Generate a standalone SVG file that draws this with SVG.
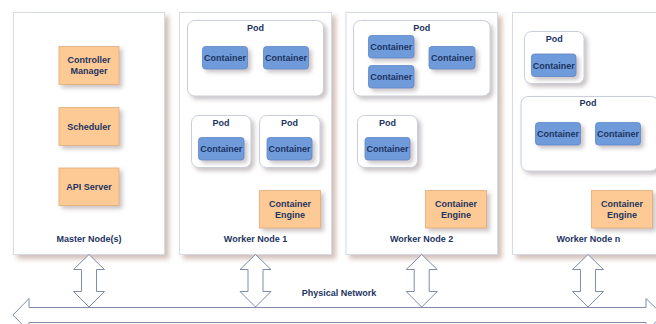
<svg xmlns="http://www.w3.org/2000/svg" width="656" height="324" viewBox="0 0 656 324">
  <defs>
    <filter id="nodeShadow" x="-10%" y="-10%" width="130%" height="130%">
      <feDropShadow dx="4" dy="4" stdDeviation="2.5" flood-color="#9c7460" flood-opacity="0.45"/>
    </filter>
    <filter id="smallShadow" x="-20%" y="-20%" width="150%" height="160%">
      <feDropShadow dx="3" dy="3" stdDeviation="2" flood-color="#8a7a80" flood-opacity="0.45"/>
    </filter>
    <style>
      .node { fill: #ffffff; stroke: #d5dae4; stroke-width: 1; filter: url(#nodeShadow); }
      .pod { fill: #ffffff; stroke: #c9ced8; stroke-width: 1; filter: url(#smallShadow); }
      .comp { fill: #fdc994; stroke: #e3ad78; stroke-width: 0.8; filter: url(#smallShadow); }
      .ctr { fill: #6f9bdb; stroke: #5d86c6; stroke-width: 0.8; filter: url(#smallShadow); }
      .arrow { fill: #ffffff; stroke: #7f8cab; stroke-width: 1; }
      text { font-family: "Liberation Sans", Arial, sans-serif; font-size: 9px; font-weight: bold; fill: #1d3461; text-anchor: middle; }
    </style>
  </defs>

  <!-- Master node -->
  <g id="master-node">
    <rect class="node" x="13.5" y="12.5" width="151" height="242"/>
    <rect class="comp" x="59" y="46.5" width="60" height="38"/>
    <text x="89" y="63">Controller</text>
    <text x="89" y="74">Manager</text>
    <rect class="comp" x="59" y="107.5" width="60" height="38"/>
    <text x="89" y="129.5">Scheduler</text>
    <rect class="comp" x="59" y="168" width="60" height="37.5"/>
    <text x="89" y="190">API Server</text>
    <text x="89" y="242">Master Node(s)</text>
  </g>

  <!-- Worker node 1 -->
  <g id="worker-node-1">
    <rect class="node" x="179.5" y="12.5" width="152" height="242"/>
    <rect class="pod" x="187.5" y="20.5" width="136" height="75.5" rx="7"/>
    <text x="255.5" y="30.5">Pod</text>
    <rect class="ctr" x="202.5" y="46.5" width="45" height="22.5" rx="3"/>
    <text x="225" y="61">Container</text>
    <rect class="ctr" x="263.5" y="46.5" width="45" height="22.5" rx="3"/>
    <text x="286" y="61">Container</text>
    <rect class="pod" x="191.5" y="115.5" width="59.5" height="52" rx="7"/>
    <text x="221" y="125.5">Pod</text>
    <rect class="ctr" x="198.5" y="137.5" width="45.5" height="22.5" rx="3"/>
    <text x="221.2" y="152">Container</text>
    <rect class="pod" x="259.5" y="115.5" width="60.5" height="52" rx="7"/>
    <text x="289.5" y="125.5">Pod</text>
    <rect class="ctr" x="267" y="137.5" width="45" height="22.5" rx="3"/>
    <text x="289.5" y="152">Container</text>
    <rect class="comp" x="259.5" y="190.5" width="61" height="37.5"/>
    <text x="290" y="206.5">Container</text>
    <text x="290" y="217.5">Engine</text>
    <text x="255.5" y="242">Worker Node 1</text>
  </g>

  <!-- Worker node 2 -->
  <g id="worker-node-2">
    <rect class="node" x="346" y="12.5" width="151.5" height="242"/>
    <rect class="pod" x="353.5" y="20.5" width="136.5" height="75.5" rx="7"/>
    <text x="421.7" y="30.5">Pod</text>
    <rect class="ctr" x="368.5" y="35.5" width="45.5" height="22.5" rx="3"/>
    <text x="391.2" y="49.5">Container</text>
    <rect class="ctr" x="368.5" y="65.5" width="45.5" height="22.5" rx="3"/>
    <text x="391.2" y="79.5">Container</text>
    <rect class="ctr" x="429" y="46.5" width="46" height="22.5" rx="3"/>
    <text x="452" y="61">Container</text>
    <rect class="pod" x="357.5" y="115.5" width="60" height="52" rx="7"/>
    <text x="387.5" y="125.5">Pod</text>
    <rect class="ctr" x="365" y="137.5" width="45" height="22.5" rx="3"/>
    <text x="387.5" y="152">Container</text>
    <rect class="comp" x="425.5" y="190.5" width="61" height="37.5"/>
    <text x="456" y="206.5">Container</text>
    <text x="456" y="217.5">Engine</text>
    <text x="421.7" y="242">Worker Node 2</text>
  </g>

  <!-- Worker node n -->
  <g id="worker-node-n">
    <rect class="node" x="512.5" y="12.5" width="160" height="242"/>
    <rect class="pod" x="524.5" y="31.5" width="59.5" height="52" rx="7"/>
    <text x="554.3" y="41.5">Pod</text>
    <rect class="ctr" x="531.5" y="54" width="44.5" height="22.5" rx="3"/>
    <text x="553.8" y="68.5">Container</text>
    <rect class="pod" x="521" y="96.5" width="137" height="74.5" rx="7"/>
    <text x="588" y="106">Pod</text>
    <rect class="ctr" x="535.5" y="122.5" width="45" height="22.5" rx="3"/>
    <text x="558" y="137">Container</text>
    <rect class="ctr" x="595.5" y="122.5" width="45" height="22.5" rx="3"/>
    <text x="618" y="137">Container</text>
    <rect class="comp" x="591.5" y="190.5" width="61" height="37.5"/>
    <text x="622" y="206.5">Container</text>
    <text x="622" y="217.5">Engine</text>
    <text x="588.3" y="242">Worker Node n</text>
  </g>

  <!-- Network links -->
  <g id="connectors">
    <polygon class="arrow" points="13,315 29,298.5 29,307.5 646,307.5 646,298.5 663,315 646,331.5 646,322.5 29,322.5 29,331.5"/>
    <polygon class="arrow" points="89,254.5 104.5,269.5 96.5,269.5 96.5,291.5 104.5,291.5 89,307 73.5,291.5 81.5,291.5 81.5,269.5 73.5,269.5"/>
    <polygon class="arrow" points="255.5,254.5 271,269.5 263,269.5 263,291.5 271,291.5 255.5,307 240,291.5 248,291.5 248,269.5 240,269.5"/>
    <polygon class="arrow" points="421.7,254.5 437.2,269.5 429.2,269.5 429.2,291.5 437.2,291.5 421.7,307 406.2,291.5 414.2,291.5 414.2,269.5 406.2,269.5"/>
    <polygon class="arrow" points="588,254.5 603.5,269.5 595.5,269.5 595.5,291.5 603.5,291.5 588,307 572.5,291.5 580.5,291.5 580.5,269.5 572.5,269.5"/>
    <text x="339" y="295.5">Physical Network</text>
  </g>
</svg>
